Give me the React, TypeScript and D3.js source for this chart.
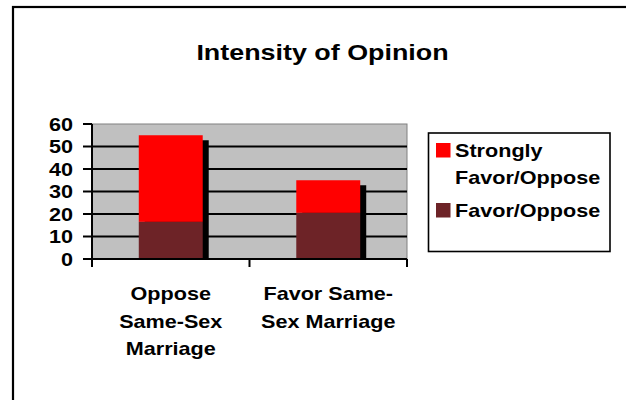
import React, { useEffect, useRef } from 'react';
import * as d3 from 'd3';

// chart data
const categories = ['Oppose Same-Sex Marriage', 'Favor Same-Sex Marriage'];
const categoryLines = [
  ['Oppose', 'Same-Sex', 'Marriage'],
  ['Favor Same-', 'Sex Marriage'],
];
const favorOppose = [16.5, 20.5];
const stronglyFavorOppose = [38.5, 14.5];
const yTicks = [0, 10, 20, 30, 40, 50, 60];
const seriesNames = ['Strongly Favor/Oppose', 'Favor/Oppose'];
const legendLines = [['Strongly', 'Favor/Oppose'], ['Favor/Oppose']];
const titleText = 'Intensity of Opinion';

const RED = '#ff0000';
const MAROON = '#6d2327';
const FONT = '"Liberation Sans", Arial, Helvetica, sans-serif';
const SX = 1.2; // the original text is stretched sideways

export default function App() {
  const svgRef = useRef<SVGSVGElement>(null);

  useEffect(() => {
    document.body.style.margin = '0';
    if (!svgRef.current) return;
    const width = 626;
    const height = 400;

    const svg = d3.select(svgRef.current);
    svg.selectAll('*').remove();
    svg.attr('width', width).attr('height', height);

    const plot = { left: 92, right: 407, top: 124, bottom: 259 };

    const y = d3.scaleLinear().domain([0, 60]).range([plot.bottom, plot.top]);
    const xCat = d3.scaleBand<string>().domain(categories).range([plot.left, plot.right]);
    const xBar = d3.scaleBand<string>()
      .domain(categories)
      .range([plot.left, plot.right])
      .paddingInner(0.594)
      .paddingOuter(0.297);

    const text = (g: any, x: number, yy: number, s: string, size: number, anchor = 'start', sx = SX) =>
      g.append('text')
        .attr('transform', `translate(${x},${yy}) scale(${sx},1)`)
        .attr('text-anchor', anchor)
        .attr('font-family', FONT)
        .attr('font-weight', 'bold')
        .attr('font-size', size)
        .attr('fill', '#000')
        .text(s);

    // outer frame (runs off the right and bottom of the picture)
    svg.append('rect')
      .attr('x', 13).attr('y', 7)
      .attr('width', 700).attr('height', 500)
      .attr('fill', '#fff')
      .attr('stroke', '#000')
      .attr('stroke-width', 2.2);

    // title
    text(svg, 322.5, 59.5, titleText, 21.5, 'middle', 1.25);

    // plot area
    svg.append('rect')
      .attr('x', plot.left).attr('y', plot.top)
      .attr('width', plot.right - plot.left)
      .attr('height', plot.bottom - plot.top)
      .attr('fill', '#c0c0c0')
      .attr('stroke', '#808080')
      .attr('stroke-width', 1);

    // gridlines
    svg.append('g')
      .selectAll('line')
      .data(yTicks.filter(d => d > 0 && d < 60))
      .enter().append('line')
      .attr('x1', plot.left).attr('x2', plot.right)
      .attr('y1', d => y(d)).attr('y2', d => y(d))
      .attr('stroke', '#000')
      .attr('stroke-width', 2);

    // stacked bars with a drop shadow
    const stacked = categories.map((c, i) => ({
      cat: c,
      low: favorOppose[i],
      total: favorOppose[i] + stronglyFavorOppose[i],
    }));
    const bars = svg.append('g');
    stacked.forEach(d => {
      const bx = xBar(d.cat) as number;
      const bw = xBar.bandwidth();
      bars.append('rect')
        .attr('x', bx + 6).attr('y', y(d.total) + 5)
        .attr('width', bw).attr('height', y(0) - y(d.total) - 5)
        .attr('fill', '#000');
      bars.append('rect')
        .attr('x', bx).attr('y', y(d.total))
        .attr('width', bw).attr('height', y(d.low) - y(d.total))
        .attr('fill', RED);
      bars.append('rect')
        .attr('x', bx).attr('y', y(d.low))
        .attr('width', bw).attr('height', y(0) - y(d.low))
        .attr('fill', MAROON);
    });

    // axes
    const axes = svg.append('g').attr('stroke', '#000').attr('stroke-width', 2);
    axes.append('line')
      .attr('x1', plot.left).attr('x2', plot.left)
      .attr('y1', plot.top).attr('y2', plot.bottom + 8);
    axes.append('line')
      .attr('x1', plot.left - 9).attr('x2', plot.right)
      .attr('y1', plot.bottom).attr('y2', plot.bottom);
    axes.selectAll('.ytick')
      .data(yTicks)
      .enter().append('line')
      .attr('x1', plot.left - 9).attr('x2', plot.left)
      .attr('y1', d => y(d)).attr('y2', d => y(d));
    const catEdges = [...categories.map(c => xCat(c) as number), plot.right];
    axes.selectAll('.xtick')
      .data(catEdges)
      .enter().append('line')
      .attr('x1', d => d).attr('x2', d => d)
      .attr('y1', plot.bottom).attr('y2', plot.bottom + 8);

    // y tick labels
    yTicks.forEach(t => text(svg, 73, y(t) + 6.5, String(t), 18, 'end'));

    // category labels
    categories.forEach((c, i) => {
      const cx = (xCat(c) as number) + xCat.bandwidth() / 2;
      categoryLines[i].forEach((line, j) => text(svg, cx, 300 + j * 27.5, line, 18, 'middle'));
    });

    // legend
    const legend = svg.append('g');
    legend.append('rect')
      .attr('x', 428.5).attr('y', 133)
      .attr('width', 181.5).attr('height', 118.5)
      .attr('fill', '#fff')
      .attr('stroke', '#000')
      .attr('stroke-width', 1.6);
    const legendColors = [RED, MAROON];
    const legendTops = [143, 203];
    seriesNames.forEach((_, i) => {
      legend.append('rect')
        .attr('x', 436).attr('y', legendTops[i])
        .attr('width', 14.5).attr('height', 14.5)
        .attr('fill', legendColors[i]);
      legendLines[i].forEach((line, j) =>
        text(legend, 455, legendTops[i] + 14 + j * 26.5, line, 18));
    });
  }, []);

  return (
    <div style={{ position: 'absolute', left: 0, top: 0 }}>
      <svg ref={svgRef} style={{ display: 'block' }}></svg>
    </div>
  );
}
